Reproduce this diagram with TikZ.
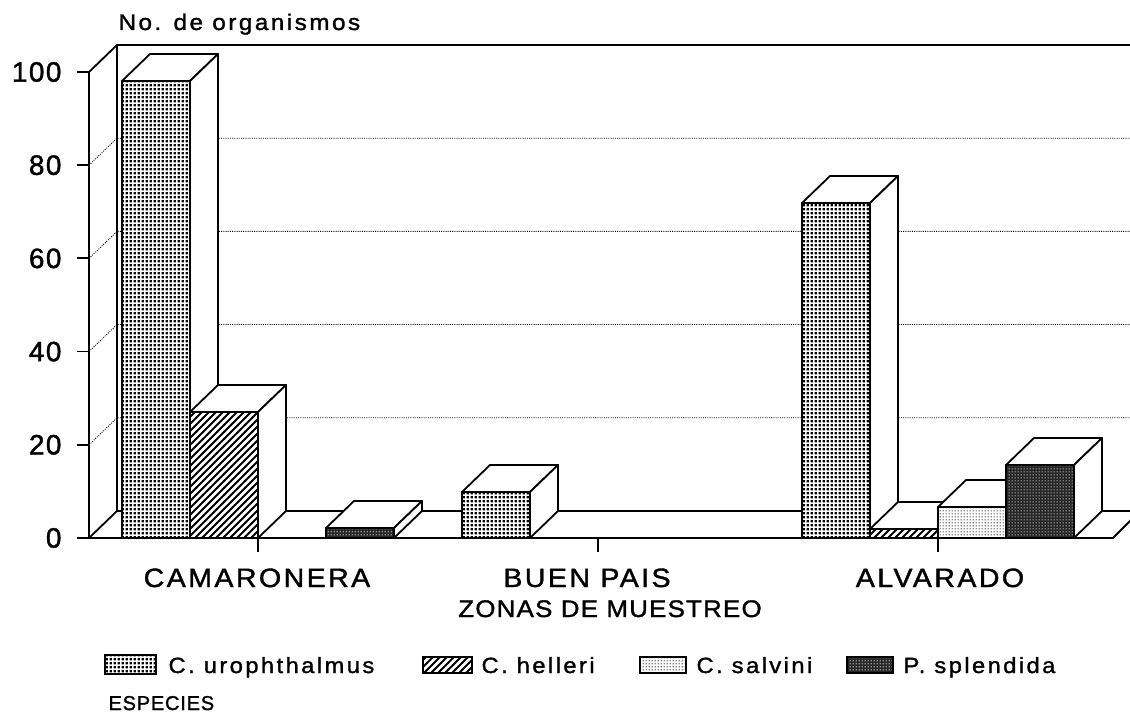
\documentclass[tikz,border=0pt]{standalone}
\usepackage{fontspec}
\setmainfont{Liberation Sans}
\newfontfamily\tickfont[LetterSpace=5,FakeBold=1.4]{Liberation Sans}
\newfontfamily\catfont[LetterSpace=9,FakeStretch=1.08,FakeBold=1.4]{Liberation Sans}
\newfontfamily\zonfont[LetterSpace=5,FakeStretch=1.08,FakeBold=1.4]{Liberation Sans}
\newfontfamily\legfont[LetterSpace=11,FakeStretch=1.08,FakeBold=1.4]{Liberation Sans}
\newfontfamily\titfont[LetterSpace=11,FakeStretch=1.08,FakeBold=1.4]{Liberation Sans}
\newfontfamily\espfont[LetterSpace=4,FakeBold=1.4]{Liberation Sans}
\usetikzlibrary{patterns}
\pgfdeclarepatternformonly{urodots}{\pgfqpoint{0pt}{0pt}}{\pgfqpoint{4.2pt}{4.2pt}}{\pgfqpoint{4.2pt}{4.2pt}}{\pgfpathrectangle{\pgfqpoint{0.8pt}{0.8pt}}{\pgfqpoint{2.6pt}{2.6pt}}\pgfusepath{fill}}
\pgfdeclarepatternformonly{hellerilines}{\pgfqpoint{-1pt}{-1pt}}{\pgfqpoint{8pt}{8pt}}{\pgfqpoint{7pt}{7pt}}{\pgfsetlinewidth{1.8pt}\pgfpathmoveto{\pgfqpoint{-0.5pt}{-0.5pt}}\pgfpathlineto{\pgfqpoint{7.5pt}{7.5pt}}\pgfusepath{stroke}}
\pgfdeclarepatternformonly{salvdots}{\pgfqpoint{0pt}{0pt}}{\pgfqpoint{3pt}{3pt}}{\pgfqpoint{3pt}{3pt}}{\pgfpathcircle{\pgfqpoint{1.5pt}{1.5pt}}{0.8pt}\pgfusepath{fill}}
\tikzset{
  edge/.style={line width=1.8pt, line join=round},
  gridline/.style={line width=0.8pt, dash pattern=on 1pt off 1.2pt},
  uro/.style={pattern=urodots},
  hel/.style={pattern=hellerilines},
  sal/.style={pattern=salvdots},
  spl/.style={pattern=salvdots, pattern color=white},
  whitebase/.style={fill=white},
  darkbase/.style={fill=black!85},
  ticklab/.style={anchor=east, font={\tickfont\fontsize{28}{30}\selectfont}},
  catlab/.style={anchor=base, font={\catfont\fontsize{26.5}{30}\selectfont}},
  leglab/.style={anchor=base west, font={\legfont\fontsize{22}{24}\selectfont}},
  swatch/.style={line width=1.8pt}
}
% #1 = front-left x, #2 = height (px), #3 = base fill style, #4 = pattern style
\newcommand\drawbar[4]{%
  \fill[#3] (#1,538) rectangle (#1+68,538-#2);
  \fill[#4] (#1,538) rectangle (#1+68,538-#2);
  \draw[edge] (#1,538) rectangle (#1+68,538-#2);
  \draw[edge, fill=white] (#1,538-#2) -- (#1+28,511-#2) -- (#1+96,511-#2) -- (#1+68,538-#2) -- cycle;
  \draw[edge, fill=white] (#1+68,538) -- (#1+68,538-#2) -- (#1+96,511-#2) -- (#1+96,511) -- cycle;
}
\begin{document}
\begin{tikzpicture}[x=1pt, y=-1pt]
\useasboundingbox (0,0) rectangle (1130,719);
\fill[white] (0,0) rectangle (1130,719);
\begin{scope}
\clip (0,0) rectangle (1130,719);
% walls
\draw[edge] (89,538) -- (89,72) -- (117,45) -- (1140,45);
\draw[edge] (117,45) -- (117,511);
% grid lines
\foreach \v in {20,40,60,80} {
  \draw[gridline] (89,538-4.66*\v) -- (117,511-4.66*\v) -- (1140,511-4.66*\v);
}
% floor
\draw[edge, fill=white] (89,538) -- (117,511) -- (1140,511) -- (1113,538) -- cycle;
% y ticks
\foreach \v in {0,20,40,60,80,100} {
  \draw[edge] (77,538-4.66*\v) -- (89,538-4.66*\v);
}
% x ticks
\foreach \t in {258,598,938} { \draw[edge] (\t,538) -- (\t,552); }
% bars: CAMARONERA
\drawbar{122}{457}{whitebase}{uro}
\drawbar{190}{126}{whitebase}{hel}
\drawbar{326}{10}{darkbase}{spl}
% BUEN PAIS
\drawbar{462}{46}{whitebase}{uro}
% ALVARADO
\drawbar{802}{335}{whitebase}{uro}
\drawbar{870}{9}{whitebase}{hel}
\drawbar{938}{31}{whitebase}{sal}
\drawbar{1006}{73}{darkbase}{spl}
\end{scope}
% labels
\node[anchor=base west, font={\titfont\fontsize{22.5}{24}\selectfont}] (ytitle) at (115,30) {No. de organismos};
\node[ticklab] (t0) at (65,538) {0};
\node[ticklab] (t20) at (65,444.8) {20};
\node[ticklab] (t40) at (65,351.6) {40};
\node[ticklab] (t60) at (65,258.4) {60};
\node[ticklab] (t80) at (65,165.2) {80};
\node[ticklab] (t100) at (65,72) {100};
\node[catlab] (cam) at (257,587) {CAMARONERA};
\node[catlab] (bp) at (587,587) {BUEN PAIS};
\node[catlab] (alv) at (940,587) {ALVARADO};
\node[anchor=base, font={\zonfont\fontsize{24}{28}\selectfont}] (zon) at (610,617) {ZONAS DE MUESTREO};
% legend
\fill[white] (105,655) rectangle (156,674);
\fill[uro] (105,655) rectangle (156,674);
\draw[swatch] (105,655) rectangle (156,674);
\node[leglab] (l1) at (165,673) {C. urophthalmus};
\fill[white] (423,657) rectangle (472,673);
\fill[hel] (423,657) rectangle (472,673);
\draw[swatch] (423,657) rectangle (472,673);
\node[leglab] (l2) at (478,673) {C. helleri};
\fill[white] (640,657) rectangle (686,673);
\fill[sal] (640,657) rectangle (686,673);
\draw[swatch] (640,657) rectangle (686,673);
\node[leglab] (l3) at (693,673) {C. salvini};
\fill[black!85] (847,657) rectangle (893,673);
\fill[spl] (847,657) rectangle (893,673);
\draw[swatch] (847,657) rectangle (893,673);
\node[leglab] (l4) at (900,673) {P. splendida};
\node[anchor=base west, font={\espfont\fontsize{20}{24}\selectfont}] (esp) at (105,710) {ESPECIES};
\end{tikzpicture}
\end{document}
